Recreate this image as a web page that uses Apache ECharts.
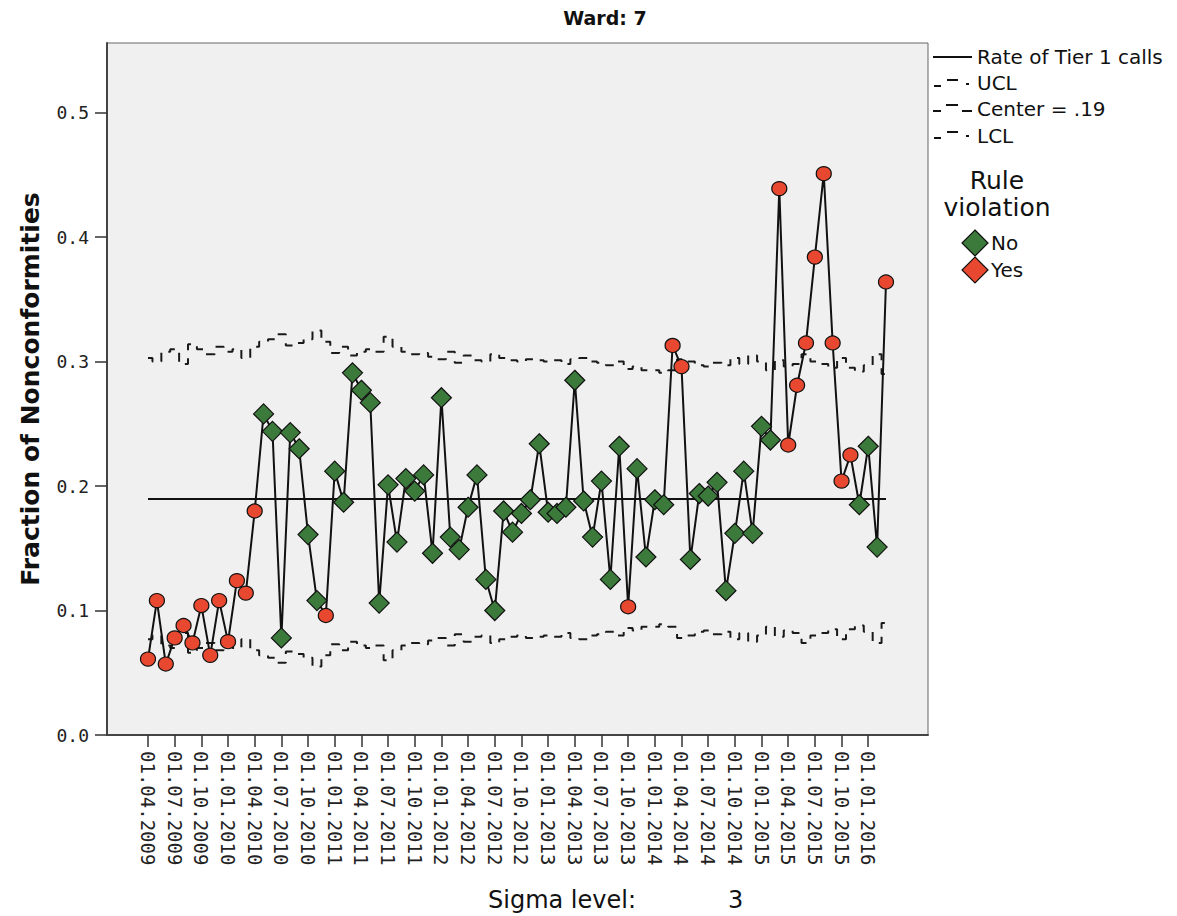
<!DOCTYPE html>
<html>
<head>
<meta charset="utf-8">
<script src="https://cdn.jsdelivr.net/npm/echarts@6/dist/echarts.min.js"></script>
<style>
  html, body { margin: 0; padding: 0; background: #fff; }
  #chart { width: 1177px; height: 916px; }
</style>
</head>
<body>
<div id="chart"></div>
<script>
// months, one category per point (Apr 2009 .. Mar 2016)
const months = [
  '01.04.2009','01.05.2009','01.06.2009','01.07.2009','01.08.2009','01.09.2009','01.10.2009','01.11.2009','01.12.2009',
  '01.01.2010','01.02.2010','01.03.2010','01.04.2010','01.05.2010','01.06.2010','01.07.2010','01.08.2010','01.09.2010','01.10.2010','01.11.2010','01.12.2010',
  '01.01.2011','01.02.2011','01.03.2011','01.04.2011','01.05.2011','01.06.2011','01.07.2011','01.08.2011','01.09.2011','01.10.2011','01.11.2011','01.12.2011',
  '01.01.2012','01.02.2012','01.03.2012','01.04.2012','01.05.2012','01.06.2012','01.07.2012','01.08.2012','01.09.2012','01.10.2012','01.11.2012','01.12.2012',
  '01.01.2013','01.02.2013','01.03.2013','01.04.2013','01.05.2013','01.06.2013','01.07.2013','01.08.2013','01.09.2013','01.10.2013','01.11.2013','01.12.2013',
  '01.01.2014','01.02.2014','01.03.2014','01.04.2014','01.05.2014','01.06.2014','01.07.2014','01.08.2014','01.09.2014','01.10.2014','01.11.2014','01.12.2014',
  '01.01.2015','01.02.2015','01.03.2015','01.04.2015','01.05.2015','01.06.2015','01.07.2015','01.08.2015','01.09.2015','01.10.2015','01.11.2015','01.12.2015',
  '01.01.2016','01.02.2016','01.03.2016'
];

// rate of tier 1 calls
const rates = [
  0.061, 0.108, 0.057, 0.078, 0.088, 0.074, 0.104, 0.064, 0.108,
  0.075, 0.124, 0.114, 0.180, 0.258, 0.244, 0.078, 0.243, 0.230, 0.161, 0.108, 0.096,
  0.212, 0.187, 0.291, 0.277, 0.267, 0.106, 0.201, 0.155, 0.206, 0.196, 0.209, 0.146,
  0.271, 0.159, 0.149, 0.183, 0.209, 0.125, 0.100, 0.180, 0.163, 0.178, 0.189, 0.234,
  0.179, 0.178, 0.183, 0.285, 0.188, 0.159, 0.204, 0.125, 0.232, 0.103, 0.214, 0.143,
  0.189, 0.185, 0.313, 0.296, 0.141, 0.194, 0.192, 0.203, 0.116, 0.162, 0.212, 0.162,
  0.248, 0.237, 0.439, 0.233, 0.281, 0.315, 0.384, 0.451, 0.315, 0.204, 0.225, 0.185,
  0.232, 0.151, 0.364
];

// rule violation: 1 = Yes, 0 = No
const violation = [
  1, 1, 1, 1, 1, 1, 1, 1, 1,
  1, 1, 1, 1, 0, 0, 0, 0, 0, 0, 0, 1,
  0, 0, 0, 0, 0, 0, 0, 0, 0, 0, 0, 0,
  0, 0, 0, 0, 0, 0, 0, 0, 0, 0, 0, 0,
  0, 0, 0, 0, 0, 0, 0, 0, 0, 1, 0, 0,
  0, 0, 1, 1, 0, 0, 0, 0, 0, 0, 0, 0,
  0, 0, 1, 1, 1, 1, 1, 1, 1, 1, 1, 0,
  0, 0, 1
];

const ucl = [
  0.303, 0.300, 0.308, 0.310, 0.298, 0.314, 0.310, 0.306, 0.312,
  0.308, 0.310, 0.303, 0.312, 0.316, 0.318, 0.322, 0.313, 0.315, 0.318, 0.325, 0.316,
  0.307, 0.312, 0.305, 0.308, 0.310, 0.308, 0.320, 0.312, 0.308, 0.306, 0.307, 0.304,
  0.302, 0.308, 0.299, 0.305, 0.301, 0.300, 0.306, 0.303, 0.301, 0.300, 0.302, 0.301,
  0.300, 0.301, 0.298, 0.302, 0.303, 0.300, 0.299, 0.297, 0.300, 0.294, 0.296, 0.293,
  0.293, 0.291, 0.293, 0.302, 0.300, 0.297, 0.296, 0.299, 0.297, 0.303, 0.298, 0.305,
  0.300, 0.293, 0.301, 0.296, 0.298, 0.306, 0.300, 0.298, 0.295, 0.303, 0.295, 0.292,
  0.297, 0.306, 0.290
];

const lcl = [
  0.077, 0.080, 0.072, 0.070, 0.082, 0.066, 0.070, 0.074, 0.068,
  0.072, 0.070, 0.077, 0.068, 0.064, 0.062, 0.058, 0.067, 0.065, 0.062, 0.055, 0.064,
  0.073, 0.068, 0.075, 0.072, 0.070, 0.072, 0.060, 0.068, 0.072, 0.074, 0.073, 0.076,
  0.078, 0.072, 0.081, 0.075, 0.079, 0.080, 0.074, 0.077, 0.079, 0.080, 0.078, 0.079,
  0.080, 0.079, 0.082, 0.078, 0.077, 0.080, 0.081, 0.083, 0.080, 0.086, 0.084, 0.087,
  0.087, 0.089, 0.087, 0.078, 0.080, 0.083, 0.084, 0.081, 0.083, 0.077, 0.082, 0.075,
  0.080, 0.087, 0.079, 0.084, 0.082, 0.074, 0.080, 0.082, 0.085, 0.077, 0.085, 0.088,
  0.083, 0.074, 0.090
];

const centerValue = 0.19;

const GREEN = '#3b7a3b';
const RED = '#e8482f';
const FONT = 'DejaVu Sans';
const MONO = 'DejaVu Sans Mono';

let chartDom = document.getElementById('chart');
let myChart = echarts.init(chartDom, null, { renderer: 'svg' });

const pointData = rates.map(function (v, i) {
  const bad = violation[i] === 1;
  return {
    value: v,
    symbol: bad ? 'circle' : 'diamond',
    symbolSize: bad ? [15, 14] : [20, 20],
    itemStyle: { color: bad ? RED : GREEN, borderColor: '#111', borderWidth: 1.2 }
  };
});

const limitStyle = { color: '#1a1a1a', width: 2, type: [9, 8] };

// small legend samples
function seg(x1, y1, x2, y2, w) {
  return { type: 'line', shape: { x1: x1, y1: y1, x2: x2, y2: y2 }, style: { stroke: '#111', lineWidth: w || 2 } };
}
function label(x, y, text, size, extra) {
  return {
    type: 'text',
    style: Object.assign({ x: x, y: y, text: text, fontSize: size, fontFamily: FONT, fill: '#111', verticalAlign: 'middle' }, extra || {})
  };
}
function diamond(cx, cy, r, color) {
  return {
    type: 'polygon',
    shape: { points: [[cx, cy - r], [cx + r, cy], [cx, cy + r], [cx - r, cy]] },
    style: { fill: color, stroke: '#111', lineWidth: 1.2 }
  };
}

const option = {
  animation: false,
  grid: [
    { left: 107, top: 43, width: 821, height: 692, show: true, backgroundColor: '#f0f0f0', borderColor: '#666', borderWidth: 1 },
    { left: 148, top: 43, width: 738, height: 692 }
  ],
  xAxis: [
    {
      gridIndex: 0, type: 'value', min: 0, max: 1,
      axisLine: { show: true, lineStyle: { color: '#444', width: 2 } },
      axisTick: { show: false }, axisLabel: { show: false }, splitLine: { show: false }
    },
    {
      gridIndex: 1, type: 'category', data: months, boundaryGap: false,
      axisLine: { show: false },
      axisTick: { show: true, interval: 2, length: 12, lineStyle: { color: '#333', width: 1.5 } },
      axisLabel: { interval: 2, rotate: -90, margin: 16, fontFamily: MONO, fontSize: 19, color: '#222' },
      splitLine: { show: false }
    }
  ],
  yAxis: [
    {
      gridIndex: 0, type: 'value', min: 0, max: 0.556, interval: 0.1,
      name: 'Fraction of Nonconformities', nameLocation: 'middle', nameGap: 64, nameRotate: 90,
      nameTextStyle: { fontFamily: FONT, fontWeight: 'bold', fontSize: 25, color: '#111' },
      axisLine: { show: true, lineStyle: { color: '#444', width: 2 } },
      axisTick: { show: true, length: 12, lineStyle: { color: '#333', width: 1.5 } },
      axisLabel: {
        margin: 18, fontFamily: MONO, fontSize: 18, color: '#222',
        formatter: function (v) { return v.toFixed(1); },
        showMaxLabel: false
      },
      splitLine: { show: false }
    },
    { gridIndex: 1, type: 'value', min: 0, max: 0.556, show: false }
  ],
  series: [
    {
      name: 'UCL', type: 'line', xAxisIndex: 1, yAxisIndex: 1, step: 'middle',
      data: ucl, symbol: 'none', lineStyle: limitStyle, z: 2, silent: true
    },
    {
      name: 'LCL', type: 'line', xAxisIndex: 1, yAxisIndex: 1, step: 'middle',
      data: lcl, symbol: 'none', lineStyle: limitStyle, z: 2, silent: true
    },
    {
      name: 'Rate of Tier 1 calls', type: 'line', xAxisIndex: 1, yAxisIndex: 1,
      data: pointData, showAllSymbol: true,
      lineStyle: { color: '#111', width: 2 }, z: 5,
      markLine: {
        silent: true, symbol: 'none', label: { show: false },
        lineStyle: { color: '#111', width: 2, type: 'solid' },
        data: [{ yAxis: centerValue }]
      }
    }
  ],
  graphic: [
    label(605, 18, 'Ward: 7', 19, { fontWeight: 'bold', align: 'center' }),
    label(488, 900, 'Sigma level:', 24),
    label(728, 900, '3', 24),

    seg(933, 57, 972, 57),
    label(977, 57, 'Rate of Tier 1 calls', 20),

    seg(934, 86, 941, 86), seg(947, 80, 958, 80), seg(966, 84, 969, 84),
    label(977, 83, 'UCL', 20),

    seg(933, 111, 941, 111), seg(946, 105, 958, 105), seg(962, 111, 972, 111),
    label(977, 109, 'Center = .19', 20),

    seg(934, 138, 941, 138), seg(947, 132, 958, 132), seg(966, 136, 969, 136),
    label(977, 136, 'LCL', 20),

    label(997, 180, 'Rule', 25, { align: 'center' }),
    label(997, 207, 'violation', 25, { align: 'center' }),

    diamond(975, 243, 13, GREEN),
    label(991, 243, 'No', 20),
    diamond(975, 270, 13, RED),
    label(991, 270, 'Yes', 20)
  ]
};

option && myChart.setOption(option);
</script>
</body>
</html>
